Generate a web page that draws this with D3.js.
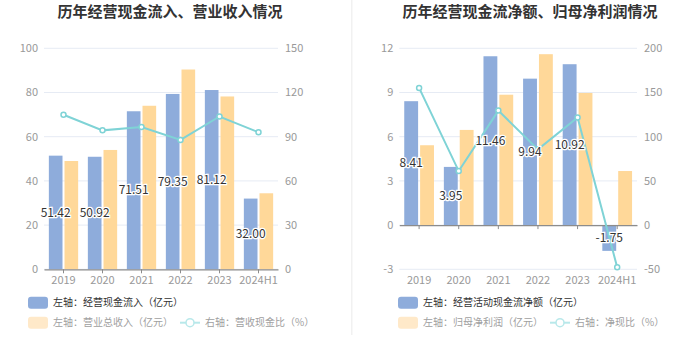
<!DOCTYPE html>
<html>
<head>
<meta charset="utf-8">
<script src="https://cdn.jsdelivr.net/npm/d3@7"></script>
<style>
  body { margin: 0; background: #fff; }
  svg { display: block; font-family: "Noto Sans CJK SC", "Noto Sans", sans-serif; }
</style>
</head>
<body>
<svg id="chart" width="700" height="360"></svg>
<script>
const years = ["2019", "2020", "2021", "2022", "2023", "2024H1"];

// left panel
const cashIn = [51.42, 50.92, 71.51, 79.35, 81.12, 32.00];
const revenue = [49.0, 54.0, 74.0, 90.4, 78.2, 34.4];
const cashRevRatio = [104.9, 94.3, 96.6, 87.8, 103.7, 93.0];
const leftTicksA = [0, 20, 40, 60, 80, 100];
const rightTicksA = [0, 30, 60, 90, 120, 150];

// right panel
const netCash = [8.41, 3.95, 11.46, 9.94, 10.92, -1.75];
const netProfit = [5.42, 6.46, 8.85, 11.6, 8.97, 3.67];
const netCashRatio = [155.2, 61.1, 129.5, 85.7, 121.7, -47.7];
const leftTicksB = [-3, 0, 3, 6, 9, 12];
const rightTicksB = [-50, 0, 50, 100, 150, 200];

const blue = "#8eacdb";
const yellow = "#ffd899";
const teal = "#7fd3d6";

const svg = d3.select("#chart");

// thin separator between the two panels
svg.append("rect")
   .attr("x", 351).attr("y", 0)
   .attr("width", 1.5).attr("height", 335)
   .attr("fill", "#f1f1f1");

function panel(opt) {
  const g = svg.append("g");

  g.append("text")
   .attr("x", opt.titleX).attr("y", 17)
   .attr("text-anchor", "middle")
   .style("font-size", "15px").style("font-weight", "bold")
   .attr("fill", "#333")
   .text(opt.title);

  const x = d3.scaleBand().domain(years).range([opt.x0, opt.x1]);
  const yL = d3.scaleLinear().domain(d3.extent(opt.leftTicks)).range([269.3, 48.3]);
  const yR = d3.scaleLinear().domain(d3.extent(opt.rightTicks)).range([269.3, 48.3]);

  // grid
  g.append("g").selectAll("line")
   .data(opt.leftTicks)
   .join("line")
   .attr("x1", opt.x0).attr("x2", opt.x1)
   .attr("y1", d => yL(d)).attr("y2", d => yL(d))
   .attr("stroke", "#e6ebf4").attr("stroke-width", 1);

  // left axis labels
  g.append("g").selectAll("text")
   .data(opt.leftTicks)
   .join("text")
   .attr("x", opt.x0 - 6).attr("y", d => yL(d))
   .attr("dy", "0.35em")
   .attr("text-anchor", "end")
   .style("font-size", "11px").attr("fill", "#999")
   .text(d => d);

  // right axis labels
  g.append("g").selectAll("text")
   .data(opt.rightTicks)
   .join("text")
   .attr("x", opt.x1 + 7).attr("y", d => yR(d))
   .attr("dy", "0.35em")
   .attr("text-anchor", "start")
   .style("font-size", "11px").attr("fill", "#999")
   .text(d => d);

  const bw = x.bandwidth() * 0.35;
  const cx = d => x(d) + x.bandwidth() / 2;

  g.append("g").selectAll("rect")
   .data(years.map((y, i) => ({y: y, v: opt.bars1[i]})))
   .join("rect")
   .attr("x", d => cx(d.y) - bw - 1)
   .attr("y", d => yL(Math.max(0, d.v)))
   .attr("width", bw)
   .attr("height", d => Math.abs(yL(d.v) - yL(0)))
   .attr("fill", blue);

  g.append("g").selectAll("rect")
   .data(years.map((y, i) => ({y: y, v: opt.bars2[i]})))
   .join("rect")
   .attr("x", d => cx(d.y) + 1)
   .attr("y", d => yL(Math.max(0, d.v)))
   .attr("width", bw)
   .attr("height", d => Math.abs(yL(d.v) - yL(0)))
   .attr("fill", yellow);

  // x axis
  const xAxis = g.append("g")
   .attr("transform", "translate(0," + yL(0) + ")")
   .call(d3.axisBottom(x).tickSize(4).tickSizeOuter(0).tickFormat(""));
  xAxis.select(".domain").attr("stroke", "#8c8c8c").attr("stroke-width", 1.2);
  xAxis.selectAll(".tick line").attr("stroke", "#8c8c8c");

  g.append("g").selectAll("text")
   .data(years)
   .join("text")
   .attr("x", d => cx(d)).attr("y", 280)
   .attr("dy", "0.35em")
   .attr("text-anchor", "middle")
   .style("font-size", "11px").attr("fill", "#999")
   .text(d => d);

  // line
  const pts = years.map((y, i) => ({y: y, v: opt.line[i]}));
  g.append("path")
   .datum(pts)
   .attr("fill", "none")
   .attr("stroke", teal).attr("stroke-width", 2)
   .attr("d", d3.line().x(d => cx(d.y)).y(d => yR(d.v)));

  g.append("g").selectAll("circle")
   .data(pts)
   .join("circle")
   .attr("cx", d => cx(d.y)).attr("cy", d => yR(d.v))
   .attr("r", 2.5)
   .attr("fill", "#fff").attr("stroke", teal).attr("stroke-width", 1.5);

  // value labels in the middle of the blue bars
  g.append("g").selectAll("text")
   .data(years.map((y, i) => ({y: y, v: opt.bars1[i]})))
   .join("text")
   .attr("x", d => cx(d.y) - bw / 2 - 1)
   .attr("y", d => (yL(d.v) + yL(0)) / 2)
   .attr("dy", "0.35em")
   .attr("text-anchor", "middle")
   .style("font-size", "12px")
   .attr("fill", "#333")
   .attr("stroke", "#fff").attr("stroke-width", 2.5)
   .attr("paint-order", "stroke")
   .text(d => d.v.toFixed(2));

  // legend
  const lg = g.append("g").style("font-size", "10px");
  lg.append("rect")
    .attr("x", opt.legX).attr("y", 296.7).attr("width", 20).attr("height", 12).attr("rx", 3)
    .attr("fill", blue);
  lg.append("text")
    .attr("x", opt.legX + 25).attr("y", 302.7).attr("dy", "0.35em")
    .attr("fill", "#333").text(opt.leg1);

  lg.append("rect")
    .attr("x", opt.legX).attr("y", 316.7).attr("width", 20).attr("height", 12).attr("rx", 3)
    .attr("fill", "#ffe9c9");
  lg.append("text")
    .attr("x", opt.legX + 25).attr("y", 322.7).attr("dy", "0.35em")
    .attr("fill", "#a0a0a0").text(opt.leg2);

  lg.append("line")
    .attr("x1", opt.legX2).attr("x2", opt.legX2 + 20)
    .attr("y1", 322.7).attr("y2", 322.7)
    .attr("stroke", "#b8e8ea").attr("stroke-width", 2);
  lg.append("circle")
    .attr("cx", opt.legX2 + 10).attr("cy", 322.7).attr("r", 4)
    .attr("fill", "#fff").attr("stroke", "#b8e8ea").attr("stroke-width", 1.5);
  lg.append("text")
    .attr("x", opt.legX2 + 25).attr("y", 322.7).attr("dy", "0.35em")
    .attr("fill", "#a0a0a0").text(opt.leg3);
}

panel({
  title: "历年经营现金流入、营业收入情况", titleX: 170,
  x0: 44, x1: 278,
  leftTicks: leftTicksA, rightTicks: rightTicksA,
  bars1: cashIn, bars2: revenue, line: cashRevRatio,
  legX: 28, legX2: 180,
  leg1: "左轴：经营现金流入（亿元）",
  leg2: "左轴：营业总收入（亿元）",
  leg3: "右轴：营收现金比（%）"
});

panel({
  title: "历年经营现金流净额、归母净利润情况", titleX: 530,
  x0: 399.3, x1: 637,
  leftTicks: leftTicksB, rightTicks: rightTicksB,
  bars1: netCash, bars2: netProfit, line: netCashRatio,
  legX: 398, legX2: 550,
  leg1: "左轴：经营活动现金流净额（亿元）",
  leg2: "左轴：归母净利润（亿元）",
  leg3: "右轴：净现比（%）"
});
</script>
</body>
</html>
